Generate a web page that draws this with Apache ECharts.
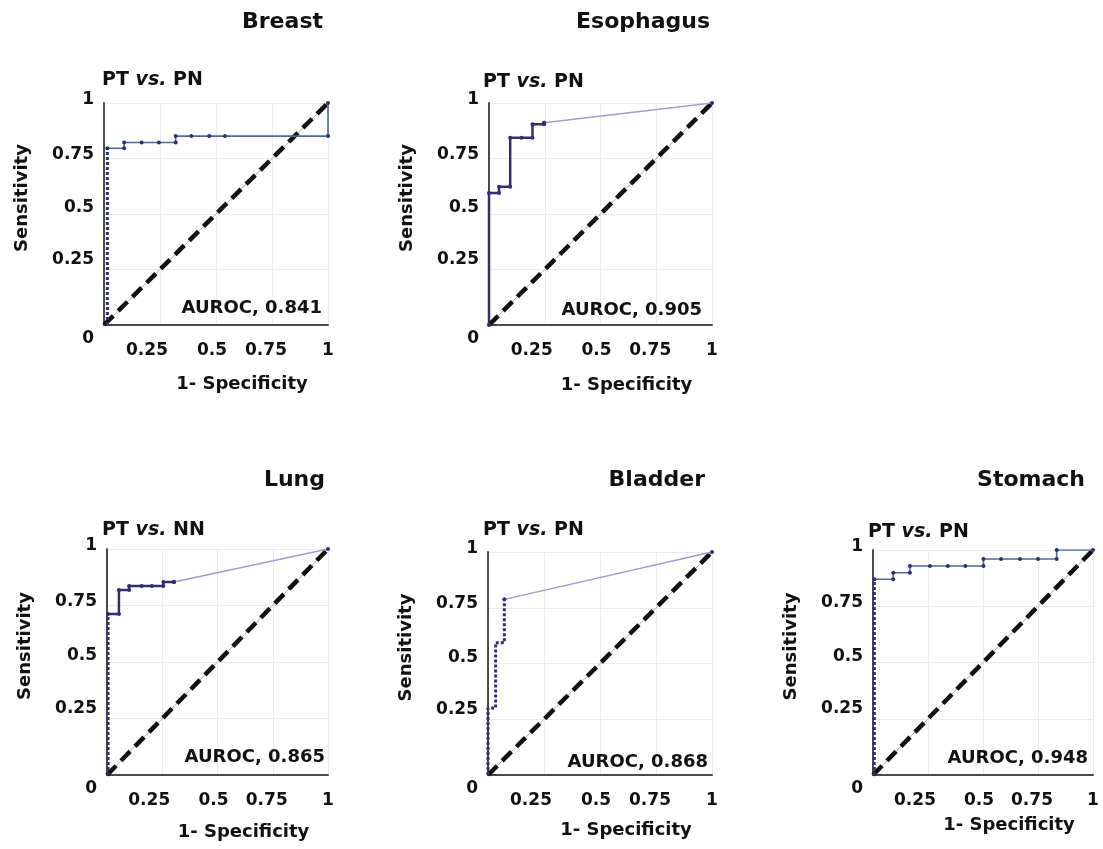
<!DOCTYPE html>
<html>
<head>
<meta charset="utf-8">
<title>ROC curves</title>
<script src="https://cdn.jsdelivr.net/npm/echarts@6/dist/echarts.min.js"></script>
<style>
  html, body { margin: 0; padding: 0; background: #fff; }
  #chart { width: 1103px; height: 849px; }
</style>
</head>
<body>
<div id="chart"></div>
<script>
// ---- data ----
var tickValues = [0, 0.25, 0.5, 0.75, 1];
var tickLabels = ['0', '0.25', '0.5', '0.75', '1'];
var chanceLine = [[0, 0], [1, 1]];

var tissues = ['Breast', 'Esophagus', 'Lung', 'Bladder', 'Stomach'];
var controls = ['PN', 'PN', 'NN', 'PN', 'PN'];
var aurocs = ['0.841', '0.905', '0.865', '0.868', '0.948'];

var breastDotted = [[0.015, 0], [0.015, 0.796]];
var breastCurve = [[0.015, 0.796], [0.09, 0.796], [0.09, 0.822], [0.168, 0.822], [0.245, 0.822],
  [0.32, 0.822], [0.32, 0.851], [0.39, 0.851], [0.47, 0.851], [0.54, 0.851], [1, 0.851], [1, 1]];

var esophagusCurve = [[0, 0], [0, 0.595], [0.045, 0.595], [0.045, 0.623], [0.095, 0.623],
  [0.095, 0.844], [0.146, 0.844], [0.195, 0.844], [0.195, 0.904], [0.247, 0.904], [0.247, 0.911]];
var esophagusTail = [[0.247, 0.911], [1, 1]];

var lungDotted = [[0.005, 0], [0.005, 0.712]];
var lungCurve = [[0.005, 0.712], [0.054, 0.712], [0.054, 0.819], [0.1, 0.819], [0.1, 0.836],
  [0.157, 0.836], [0.203, 0.836], [0.255, 0.836], [0.255, 0.854], [0.303, 0.854]];
var lungTail = [[0.303, 0.854], [1, 1]];

var bladderDotted = [[0, 0], [0, 0.30], [0.034, 0.30], [0.034, 0.593], [0.073, 0.593], [0.073, 0.788]];
var bladderTail = [[0.073, 0.788], [1, 1]];

var stomachDotted = [[0.006, 0], [0.006, 0.87]];
var stomachCurve = [[0.006, 0.87], [0.092, 0.87], [0.092, 0.899], [0.168, 0.899], [0.168, 0.929],
  [0.259, 0.929], [0.34, 0.929], [0.42, 0.929], [0.502, 0.929], [0.502, 0.96], [0.582, 0.96],
  [0.668, 0.96], [0.75, 0.96], [0.835, 0.96], [0.835, 1], [1, 1]];

// ---- layout / styling ----
var FONT = '"DejaVu Sans", "Liberation Sans", Arial, sans-serif';
var ink = '#111111';
var navy = '#2d2f72';
var steel = '#4a6a9c';
var lavender = '#9d9dcc';

var panels = [
  { grid: [104, 103, 224, 222], title: [323, 22], sub: [102, 80], auroc: [322, 308], xGap: 50,
    dotted: breastDotted, curve: breastCurve, tail: null, color: steel },
  { grid: [489, 103, 223, 222], title: [710, 22], sub: [483, 82], auroc: [702, 310], xGap: 51,
    dotted: null, curve: esophagusCurve, tail: esophagusTail, color: navy },
  { grid: [107, 549, 221, 226], title: [325, 480], sub: [102, 530], auroc: [325, 757], xGap: 48,
    dotted: lungDotted, curve: lungCurve, tail: lungTail, color: navy },
  { grid: [488, 552, 224, 223], title: [705, 480], sub: [483, 530], auroc: [708, 762], xGap: 46,
    dotted: bladderDotted, curve: null, tail: bladderTail, color: navy },
  { grid: [873, 550, 220, 225], title: [1085, 480], sub: [868, 532], auroc: [1088, 758], xGap: 41,
    dotted: stomachDotted, curve: stomachCurve, tail: null, color: steel }
];

// the original tick labels sit a little off their gridlines
var xShift = [0, -13, -4, -6, 0];
var yShift = [14, -10, -6, -4, -3];

function labelRich(shifts, vertical) {
  var rich = {};
  shifts.forEach(function(s, k) {
    var pad = vertical
      ? (s >= 0 ? [2 * s, 0, 0, 0] : [0, 0, -2 * s, 0])
      : (s >= 0 ? [0, 0, 0, 2 * s] : [0, -2 * s, 0, 0]);
    rich['k' + k] = { padding: pad, fontSize: 17, fontWeight: 'bold', fontFamily: FONT, color: ink };
  });
  return rich;
}
function labelFormatter(v) {
  var k = tickValues.indexOf(v);
  return k < 0 ? '' : '{k' + k + '|' + tickLabels[k] + '}';
}

var chart = echarts.init(document.getElementById('chart'));
var grids = [], xAxes = [], yAxes = [], series = [], graphics = [];

panels.forEach(function(p, i) {
  grids.push({ left: p.grid[0], top: p.grid[1], width: p.grid[2], height: p.grid[3] });

  xAxes.push({
    gridIndex: i, type: 'value', min: 0, max: 1, interval: 0.25,
    name: '1- Specificity', nameLocation: 'middle', nameGap: p.xGap,
    nameTextStyle: { color: ink, fontSize: 18, fontWeight: 'bold', fontFamily: FONT, padding: [0, 0, 0, 52] },
    axisLine: { lineStyle: { color: '#4a4a4a', width: 2 } },
    axisTick: { show: false },
    splitLine: { lineStyle: { color: '#ececec', width: 1 } },
    axisLabel: { showMinLabel: false, margin: 17, formatter: labelFormatter, rich: labelRich(xShift, false) }
  });
  yAxes.push({
    gridIndex: i, type: 'value', min: 0, max: 1, interval: 0.25,
    name: 'Sensitivity', nameLocation: 'middle', nameGap: 73,
    nameTextStyle: { color: ink, fontSize: 18, fontWeight: 'bold', fontFamily: FONT, padding: [0, 0, 0, 32] },
    axisLine: { show: true, lineStyle: { color: '#4a4a4a', width: 2 } },
    axisTick: { show: false },
    splitLine: { lineStyle: { color: '#ececec', width: 1 } },
    axisLabel: { margin: 10, formatter: labelFormatter, rich: labelRich(yShift, true) }
  });

  series.push({
    type: 'line', xAxisIndex: i, yAxisIndex: i, data: chanceLine, silent: true,
    showSymbol: false, lineStyle: { color: '#9fb8aa', width: 1 }, z: 1
  });
  series.push({
    type: 'line', xAxisIndex: i, yAxisIndex: i, data: chanceLine, silent: true,
    showSymbol: false, lineStyle: { color: '#111', width: 4.5, type: [13, 7] }, z: 2
  });
  if (p.dotted) {
    series.push({
      type: 'line', xAxisIndex: i, yAxisIndex: i, data: p.dotted, silent: true,
      showSymbol: false, lineStyle: { color: navy, width: 3, type: [3, 2] }, z: 3
    });
  }
  if (p.curve) {
    series.push({
      type: 'line', xAxisIndex: i, yAxisIndex: i, data: p.curve, silent: true,
      symbol: 'circle', symbolSize: 4, showAllSymbol: true,
      itemStyle: { color: navy },
      lineStyle: { color: p.color, width: p.color === navy ? 2.5 : 1.6 }, z: 4
    });
  }
  if (p.tail) {
    series.push({
      type: 'line', xAxisIndex: i, yAxisIndex: i, data: p.tail, silent: true,
      symbol: 'circle', symbolSize: 4, itemStyle: { color: navy },
      lineStyle: { color: lavender, width: 1.3 }, z: 3
    });
  }

  graphics.push({
    type: 'text', x: p.title[0], y: p.title[1], z: 100,
    style: { text: tissues[i], font: 'bold 22px ' + FONT, fill: ink, textAlign: 'right', textVerticalAlign: 'middle' }
  });
  graphics.push({
    type: 'text', x: p.sub[0], y: p.sub[1], z: 100,
    style: {
      text: '{a|PT }{b|vs.}{a| ' + controls[i] + '}',
      textAlign: 'left', textVerticalAlign: 'middle', fill: ink,
      rich: {
        a: { fontSize: 19, fontWeight: 'bold', fontFamily: FONT, fill: ink },
        b: { fontSize: 19, fontWeight: 'bold', fontStyle: 'italic', fontFamily: FONT, fill: ink }
      }
    }
  });
  graphics.push({
    type: 'text', x: p.auroc[0], y: p.auroc[1], z: 100,
    style: { text: 'AUROC, ' + aurocs[i], font: 'bold 18px ' + FONT, fill: ink, textAlign: 'right', textVerticalAlign: 'middle' }
  });
});

chart.setOption({
  animation: false,
  backgroundColor: '#ffffff',
  grid: grids,
  xAxis: xAxes,
  yAxis: yAxes,
  series: series,
  graphic: graphics
});
window.addEventListener('resize', function() { chart.resize(); });
</script>
</body>
</html>
